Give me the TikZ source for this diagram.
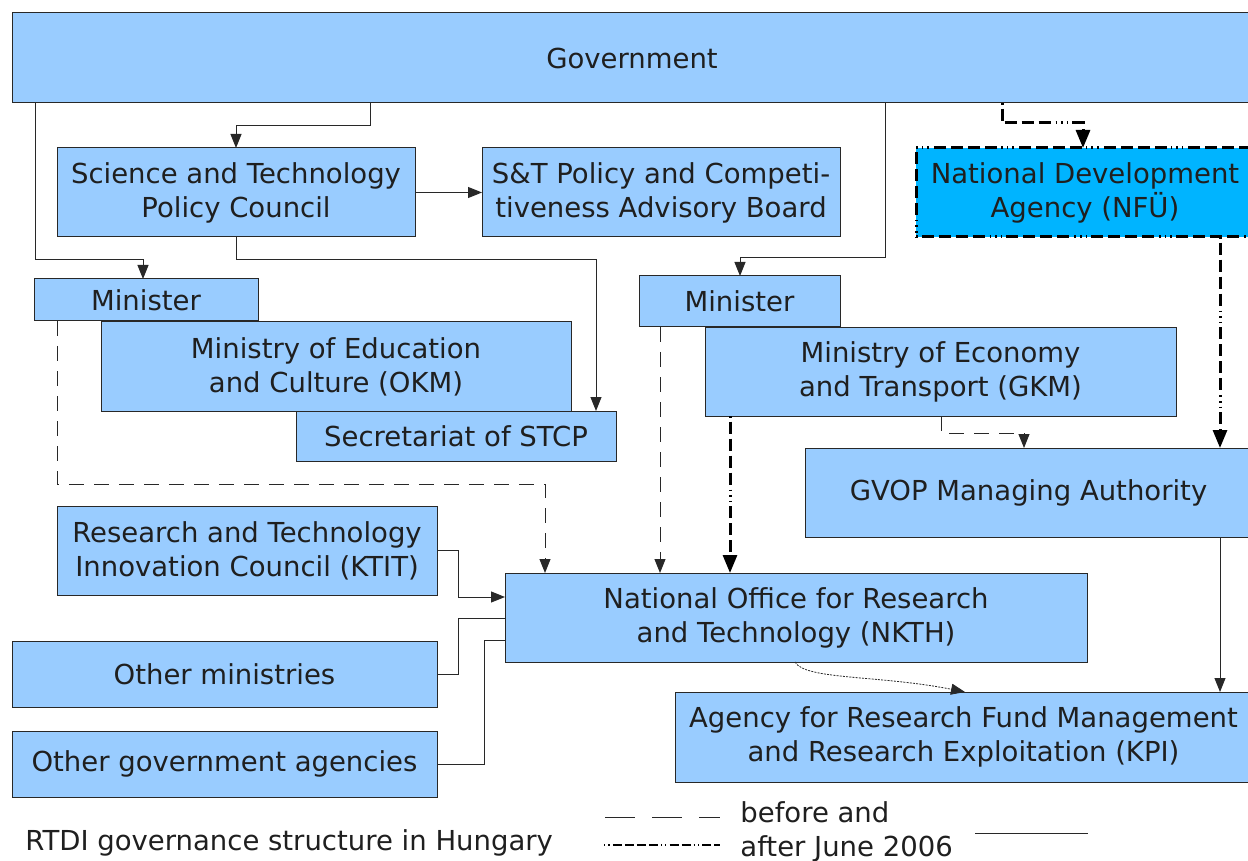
\documentclass[tikz,border=0pt]{standalone}
\usepackage{fontspec}
\setmainfont{DejaVu Sans}
\usetikzlibrary{arrows.meta}
\definecolor{unitblue}{RGB}{153,204,255}
\definecolor{nfublue}{RGB}{0,180,255}
\definecolor{edge}{RGB}{40,40,40}
\begin{document}
\begin{tikzpicture}[x=0.5pt,y=-0.5pt,
  every node/.style={font=\fontsize{13.75}{17}\selectfont, text=black!88},
  unit/.style={draw=edge, line width=0.5pt, fill=unitblue, inner sep=0pt, outer sep=0pt, align=center},
  sz/.style 2 args={minimum width=#1*0.5pt, minimum height=#2*0.5pt},
  tip/.style={-{Triangle[length=7pt,width=5.5pt]}},
  bigtip/.style={-{Triangle[length=9pt,width=7pt]}},
  link/.style={draw=edge, line width=0.5pt, tip},
  plain/.style={draw=edge, line width=0.5pt},
  before/.style={draw=edge, line width=0.5pt, dash pattern=on 7.5pt off 5pt, tip},
  afterpat/.style={dash pattern=on 0.8pt off 2pt on 6pt off 2.5pt on 6pt off 2.5pt on 6pt off 2.5pt on 6pt off 2.5pt on 0.8pt off 2pt on 0.8pt off 2pt},
  after/.style={draw=black, line width=1.5pt, afterpat, bigtip},
  finelink/.style={draw=edge, line width=0.4pt, dash pattern=on 1pt off 0.6pt, tip},
]
\useasboundingbox (0,0) rectangle (1248,861);

% organisational units
\node[unit, sz={1240}{90}] (gov) at (632,58) {Government};
\node[unit, sz={358}{89}] (stpc) at (236,192.5) {Science and Technology\\Policy Council};
\node[unit, sz={358}{89}] (stpab) at (661,192.5) {S\&T Policy and Competi-\\tiveness Advisory Board};
\node[unit, fill=nfublue, draw=black, line width=1.5pt, afterpat, sz={338}{89}] (nfu) at (1085,192.5) {National Development\\Agency (NFÜ)};
\node[unit, sz={224}{42}] (minA) at (146,300) {Minister};
\node[unit, sz={470}{89}] (okm) at (336,366.5) {Ministry of Education\\and Culture (OKM)};
\node[unit, sz={320}{50}] (sec) at (456,436) {Secretariat of STCP};
\node[unit, sz={201}{51}] (minB) at (739.5,301.5) {Minister};
\node[unit, sz={471}{88}] (gkm) at (940.5,372) {Ministry of Economy\\and Transport (GKM)};
\node[unit, sz={447}{89}] (gvop) at (1028.5,492.5) {GVOP Managing Authority};
\node[unit, sz={380}{89}] (ktit) at (247,550.5) {Research and Technology\\Innovation Council (KTIT)};
\node[unit, sz={582}{89}] (nkth) at (796,617.5) {National Office for Research\\and Technology (NKTH)};
\node[unit, sz={425}{66}] (othmin) at (224.5,674) {Other ministries};
\node[unit, sz={425}{66}] (othag) at (224.5,764) {Other government agencies};
\node[unit, sz={577}{90}] (kpi) at (963.5,737) {Agency for Research Fund Management\\and Research Exploitation (KPI)};

% solid links
\draw[link] (35,0 |- gov.south) -- (35,260) -| (143,0 |- minA.north);
\draw[link] (370,0 |- gov.south) -- (370,126) -| (236,0 |- stpc.north);
\draw[link] (885,0 |- gov.south) -- (885,258) -| (740,0 |- minB.north);
\draw[link] (stpc.east) -- (stpab.west);
\draw[link] (236,0 |- stpc.south) -- (236,260) -| (596,0 |- sec.north);
\draw[link] (1220,0 |- gvop.south) -- (1220,0 |- kpi.north);
\draw[link] (ktit.east |- 0,550) -- (458,550) |- (nkth.west |- 0,597);
\draw[plain] (othmin.east) -- (458,674) |- (nkth.west |- 0,618);
\draw[plain] (othag.east) -- (484,764) |- (nkth.west |- 0,640);

% links valid before June 2006
\draw[before] (57,0 |- minA.south) -- (57,484) -| (545,0 |- nkth.north);
\draw[before] (660,0 |- minB.south) -- (660,0 |- nkth.north);
\draw[before] (941,0 |- gkm.south) -- (941,433) -| (1024,0 |- gvop.north);

% links valid after June 2006
\draw[after] (1002,0 |- gov.south) -- (1002,123) -| (1083,0 |- nfu.north);
\draw[after] (730,0 |- gkm.south) -- (730,0 |- nkth.north);
\draw[after] (1220,0 |- nfu.south) -- (1220,0 |- gvop.north);

% fine link between NKTH and KPI
\draw[finelink] (795,0 |- nkth.south) .. controls (805,680) and (880,675) .. (965,0 |- kpi.north);

% caption and legend
\node[anchor=west, inner sep=0pt] (title) at (25,843) {RTDI governance structure in Hungary};
\coordinate (ld1) at (605,817);
\coordinate (ld2) at (720,817);
\draw[draw=edge, line width=0.5pt, dash pattern=on 15pt off 8.5pt] (ld1) -- (ld2);
\coordinate (la1) at (604,845);
\coordinate (la2) at (720,845);
\draw[draw=black, line width=1pt, dash pattern=on 0.6pt off 1.6pt on 0.6pt off 1.6pt on 4.5pt off 1.5pt on 4.5pt off 1.5pt on 4.5pt off 1.5pt on 4.5pt off 1.5pt on 0.6pt off 1.6pt on 0.6pt off 1.6pt on 4.5pt off 1.5pt on 4.5pt off 1.5pt] (la1) -- (la2);
\node[anchor=west, inner sep=0pt, align=left] (legtxt) at (740,832) {before and\\after June 2006};
\coordinate (ls1) at (975,833);
\coordinate (ls2) at (1088,833);
\draw[plain] (ls1) -- (ls2);
\end{tikzpicture}
\end{document}
